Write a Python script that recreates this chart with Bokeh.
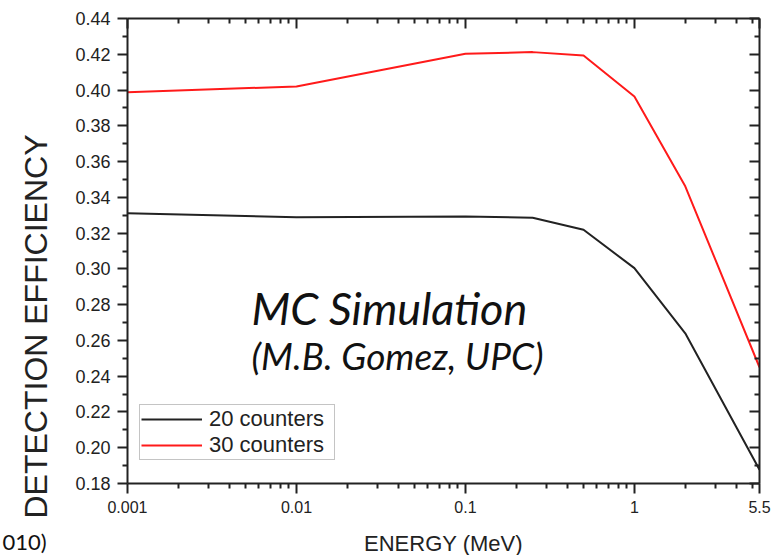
import math
from bokeh.plotting import figure
from bokeh.layouts import column, row
from bokeh.models import (Range1d, LogAxis, LinearAxis, FixedTicker, NumeralTickFormatter,
                          Label, Legend, LegendItem, Title)
from bokeh.embed import file_html
from bokeh.resources import INLINE

# ---------------- data ----------------
energy = [0.001, 0.01, 0.1, 0.25, 0.5, 1, 2, 5.5]
eff_20 = [0.3311, 0.3289, 0.3293, 0.3286, 0.3219, 0.3004, 0.2640, 0.1877]
eff_30 = [0.3988, 0.4020, 0.4203, 0.4212, 0.4193, 0.3964, 0.3462, 0.2450]

series_names = ["20 counters", "30 counters"]
series_colors = ["#222222", "#ff1a1a"]

x_major = [0.001, 0.01, 0.1, 1, 5.5]
x_major_labels = ["0.001", "0.01", "0.1", "1", "5.5"]
x_minor = [m * d for d in (0.001, 0.01, 0.1) for m in range(2, 10)] + [2, 3, 4, 5]

y_major = [0.18, 0.20, 0.22, 0.24, 0.26, 0.28, 0.30, 0.32, 0.34, 0.36, 0.38, 0.40, 0.42, 0.44]
y_minor = [0.19, 0.21, 0.23, 0.25, 0.27, 0.29, 0.31, 0.33, 0.35, 0.37, 0.39, 0.41, 0.43]

x_title = "ENERGY (MeV)"
y_title = "DETECTION EFFICIENCY"
note_1 = "MC Simulation"
note_2 = "(M.B. Gomez, UPC)"
corner_note = "010)"

# ---------------- layout sizes ----------------
W, H = 774, 555
BOTTOM_H = 30        # strip holding the x title and corner note
MAIN_W, MAIN_H = W, H - BOTTOM_H
PLOT_LEFT, PLOT_BOTTOM = 126, 483      # frame edges on the page
FL, FR, FT, FB = PLOT_LEFT, 15, 18, MAIN_H - PLOT_BOTTOM

AX_COLOR = "#222222"
TICK_FONT = "Liberation Sans"

p = figure(width=MAIN_W, height=MAIN_H, x_axis_type="log", title=None,
           x_range=Range1d(0.001, 5.5), y_range=Range1d(0.18, 0.44),
           output_backend="svg", toolbar_location=None,
           min_border_left=FL, min_border_right=FR, min_border_top=FT, min_border_bottom=FB)
p.xgrid.visible = False
p.ygrid.visible = False
p.outline_line_color = None
p.background_fill_color = "white"
p.border_fill_color = "white"


def style_axis(ax, inward, show_labels, label_size="16px"):
    ax.axis_line_color = AX_COLOR
    ax.axis_line_width = 2
    ax.major_tick_line_color = AX_COLOR
    ax.minor_tick_line_color = AX_COLOR
    ax.major_tick_line_width = 2
    ax.minor_tick_line_width = 2
    if inward:
        ax.major_tick_in, ax.major_tick_out = 10, 0
        ax.minor_tick_in, ax.minor_tick_out = 5, 0
    else:
        ax.major_tick_in, ax.major_tick_out = 0, 10
        ax.minor_tick_in, ax.minor_tick_out = 0, 5
    if show_labels:
        ax.major_label_text_font = TICK_FONT
        ax.major_label_text_font_size = label_size
        ax.major_label_text_color = "#222222"
        ax.major_label_standoff = 7
    else:
        ax.major_label_text_font_size = "0px"
        ax.major_label_text_color = None
        ax.major_label_standoff = 0


xb = p.xaxis[0]
xb.ticker = FixedTicker(ticks=x_major, minor_ticks=x_minor)
xb.major_label_overrides = {v: s for v, s in zip(x_major, x_major_labels)}
style_axis(xb, inward=False, show_labels=True, label_size="16px")

yl = p.yaxis[0]
yl.ticker = FixedTicker(ticks=y_major, minor_ticks=y_minor)
yl.formatter = NumeralTickFormatter(format="0.00")
style_axis(yl, inward=False, show_labels=True, label_size="18px")

xt = LogAxis(ticker=FixedTicker(ticks=x_major, minor_ticks=x_minor))
style_axis(xt, inward=True, show_labels=False)
p.add_layout(xt, "above")

yr = LinearAxis(ticker=FixedTicker(ticks=y_major, minor_ticks=y_minor))
style_axis(yr, inward=True, show_labels=False)
p.add_layout(yr, "right")

# y title: a side-panel title, started below the frame bottom as in the original
p.add_layout(Title(text=y_title, align="left", offset=-35, vertical_align="top",
                   standoff=34, text_font=TICK_FONT, text_font_size="32px",
                   text_font_style="normal", text_color="#222222"), "left")

# ---------------- lines ----------------
r20 = p.line(energy, eff_20, line_color=series_colors[0], line_width=2)
r30 = p.line(energy, eff_30, line_color=series_colors[1], line_width=2)

legend = Legend(items=[LegendItem(label=series_names[0], renderers=[r20]),
                       LegendItem(label=series_names[1], renderers=[r30])],
                location=(12, 23), padding=1, spacing=0, margin=0,
                glyph_width=61, glyph_height=22, label_height=22, label_width=124,
                label_standoff=7,
                label_text_font=TICK_FONT, label_text_font_size="22px",
                label_text_color="#222222",
                border_line_color="#8a8a8a", border_line_width=1,
                background_fill_color="white", background_fill_alpha=1)
p.add_layout(legend, "center")

# notes inside the frame; (px, py) = middle of the capitals, in page pixels from top-left
for txt, px, py, size in [(note_1, 250, 307.5, "45px"), (note_2, 250, 355, "37px")]:
    p.add_layout(Label(x=px - PLOT_LEFT, y=PLOT_BOTTOM - py, x_units="screen", y_units="screen",
                       text=txt, text_font="Lato", text_font_size=size, text_font_style="italic",
                       text_align="left", text_baseline="middle", text_color="#111111"))


def strip(w, h):
    s = figure(width=w, height=h, x_range=Range1d(0, w), y_range=Range1d(0, h), title=None,
               x_axis_location=None, y_axis_location=None,
               output_backend="svg", toolbar_location=None,
               min_border=0, min_border_left=0, min_border_right=0,
               min_border_top=0, min_border_bottom=0)
    s.xgrid.visible = False
    s.ygrid.visible = False
    s.outline_line_color = None
    s.border_fill_color = "white"
    s.background_fill_color = "white"
    return s


# bottom strip: x title and corner note (coordinates = pixels, y from the strip bottom)
bottom = strip(W, BOTTOM_H)
bottom.add_layout(Label(x=443, y=H - 543, text=x_title, text_font=TICK_FONT,
                        text_font_size="22px", text_align="center",
                        text_baseline="middle", text_color="#222222"))
bottom.add_layout(Label(x=2, y=H - 540.5, text=corner_note, text_font="Lato",
                        text_font_size="22px", text_align="left",
                        text_baseline="middle", text_color="#111111"))

layout = column(row(p, spacing=0), bottom, spacing=0)
open("out.html", "w").write(file_html(layout, INLINE))
